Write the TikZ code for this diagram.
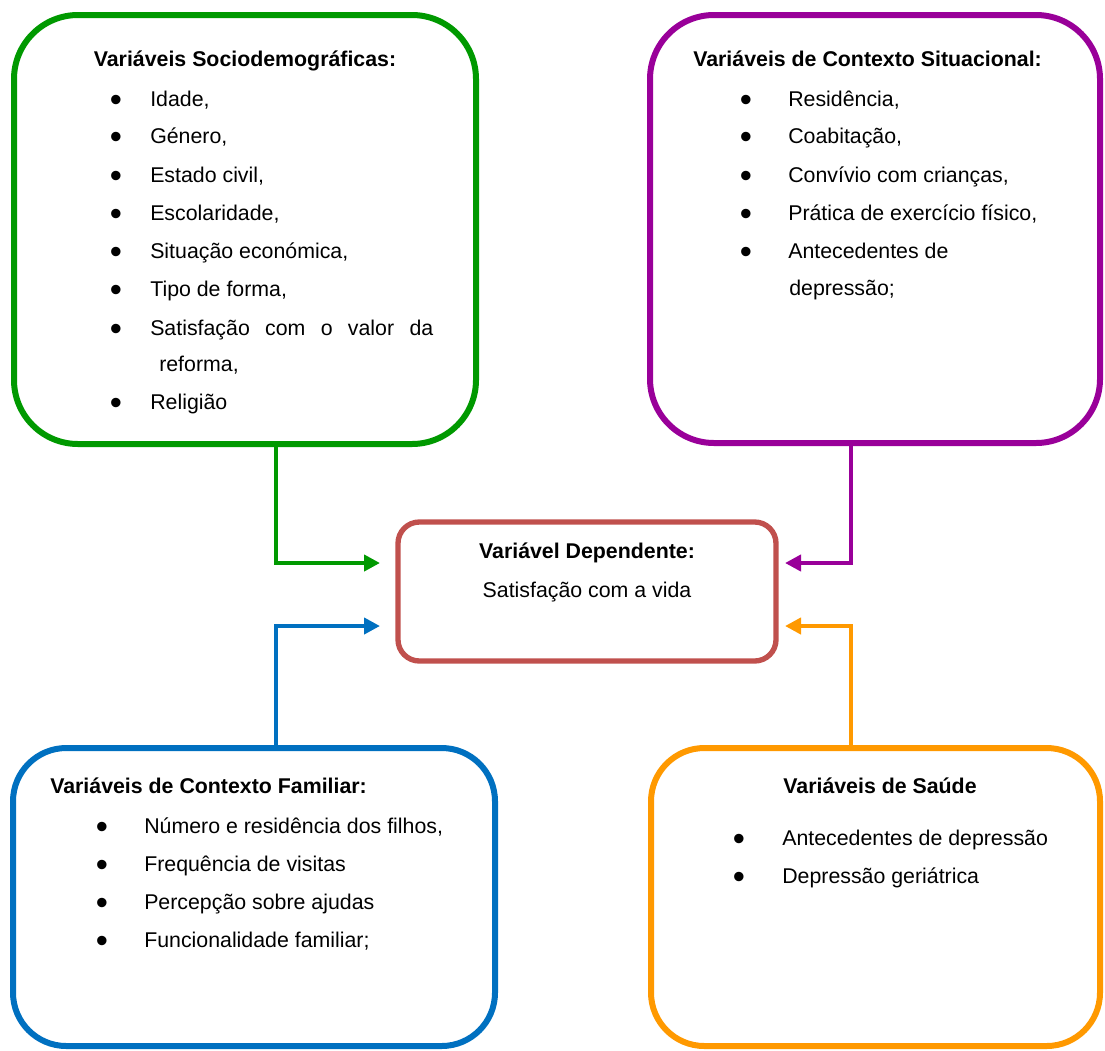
\documentclass[tikz,border=0pt]{standalone}
\usepackage{fontspec}
\setmainfont{Liberation Sans}
\usetikzlibrary{arrows.meta}
\definecolor{cgreen}{RGB}{0,153,0}
\definecolor{cpurple}{RGB}{153,0,153}
\definecolor{cred}{RGB}{192,80,77}
\definecolor{cblue}{RGB}{0,112,192}
\definecolor{corange}{RGB}{255,153,0}
\tikzset{
  bigbox/.style={draw, line width=4.5pt, rounded corners=#1, inner sep=0pt},
  txt/.style={inner sep=0pt, anchor=base west},
  ctxt/.style={inner sep=0pt, anchor=base},
  blt/.style={inner sep=0pt, anchor=center, font=\fontsize{26}{26}\selectfont},
  conn/.style={line width=3.5pt, -{Triangle[length=12pt,width=12pt]}},
}
\begin{document}
\begin{tikzpicture}[x=0.75pt, y=-0.75pt, font=\fontsize{16}{19}\selectfont]
\useasboundingbox (0,0) rectangle (1105,1050);

% boxes
\node[bigbox=48pt, draw=cgreen, minimum width=346.5pt, minimum height=321.75pt] (G) at (245,229.5) {};
\node[bigbox=48pt, draw=cpurple, minimum width=337.5pt, minimum height=321pt] (P) at (875,229) {};
\node[bigbox=16pt, draw=cred, line width=4pt, minimum width=283.5pt, minimum height=104.25pt] (D) at (587,591.5) {};
\node[bigbox=40pt, draw=cblue, minimum width=361.5pt, minimum height=223.5pt] (B) at (254,897) {};
\node[bigbox=40pt, draw=corange, minimum width=336.75pt, minimum height=223.5pt] (O) at (875.5,897) {};

% green text
\node[ctxt] (gt) at (245,66) {\bfseries Variáveis Sociodemográficas:};
\foreach \y/\t [count=\i] in {106/{Idade,}, 143/{Género,}, 182/{Estado civil,}, 220/{Escolaridade,}, 258/{Situação económica,}, 296/{Tipo de forma,}, 409/{Religião}} {
  \node[blt] (gb\i) at (116,\y-3) {•};
  \node[txt] (gl\i) at (150,\y) {\t};
}
\node[blt] (gb8) at (116,332) {•};
\node[txt] (gl8) at (150,335) {\makebox[212.25pt][s]{Satisfação com o valor da}};
\node[txt] (gl9) at (159,371) {reforma,};

% purple text
\node[txt] (pt) at (693,66) {\bfseries Variáveis de Contexto Situacional:};
\foreach \y/\t [count=\i] in {106/{Residência,}, 143/{Coabitação,}, 182/{Convívio com crianças,}, 220/{Prática de exercício físico,}, 258/{Antecedentes de}} {
  \node[blt] (pb\i) at (746,\y-3) {•};
  \node[txt] (pl\i) at (788,\y) {\t};
}
\node[txt] (pl6) at (789,295) {depressão;};

% center text
\node[ctxt] (dt) at (587,558) {\bfseries Variável Dependente:};
\node[ctxt] (dl) at (587,597) {Satisfação com a vida};

% blue text
\node[txt] (bt) at (50,793) {\bfseries Variáveis de Contexto Familiar:};
\foreach \y/\t [count=\i] in {833/{Número e residência dos filhos,}, 871/{Frequência de visitas}, 909/{Percepção sobre ajudas}, 947/{Funcionalidade familiar;}} {
  \node[blt] (bb\i) at (102,\y-3) {•};
  \node[txt] (bl\i) at (144,\y) {\t};
}

% orange text
\node[ctxt] (ot) at (880,793) {\bfseries Variáveis de Saúde};
\foreach \y/\t [count=\i] in {845/{Antecedentes de depressão}, 883/{Depressão geriátrica}} {
  \node[blt] (ob\i) at (739,\y-3) {•};
  \node[txt] (ol\i) at (782,\y) {\t};
}

% connector coordinates
\coordinate (lx) at (276,0);
\coordinate (rx) at (851,0);
\coordinate (gend) at (380,563);
\coordinate (pend) at (785,563);
\coordinate (bend) at (380,626);
\coordinate (oend) at (785,626);

\draw[conn, cgreen] (G.south -| lx) |- (gend);
\draw[conn, cpurple] (P.south -| rx) |- (pend);
\draw[conn, cblue] (B.north -| lx) |- (bend);
\draw[conn, corange] (O.north -| rx) |- (oend);
\end{tikzpicture}
\end{document}
